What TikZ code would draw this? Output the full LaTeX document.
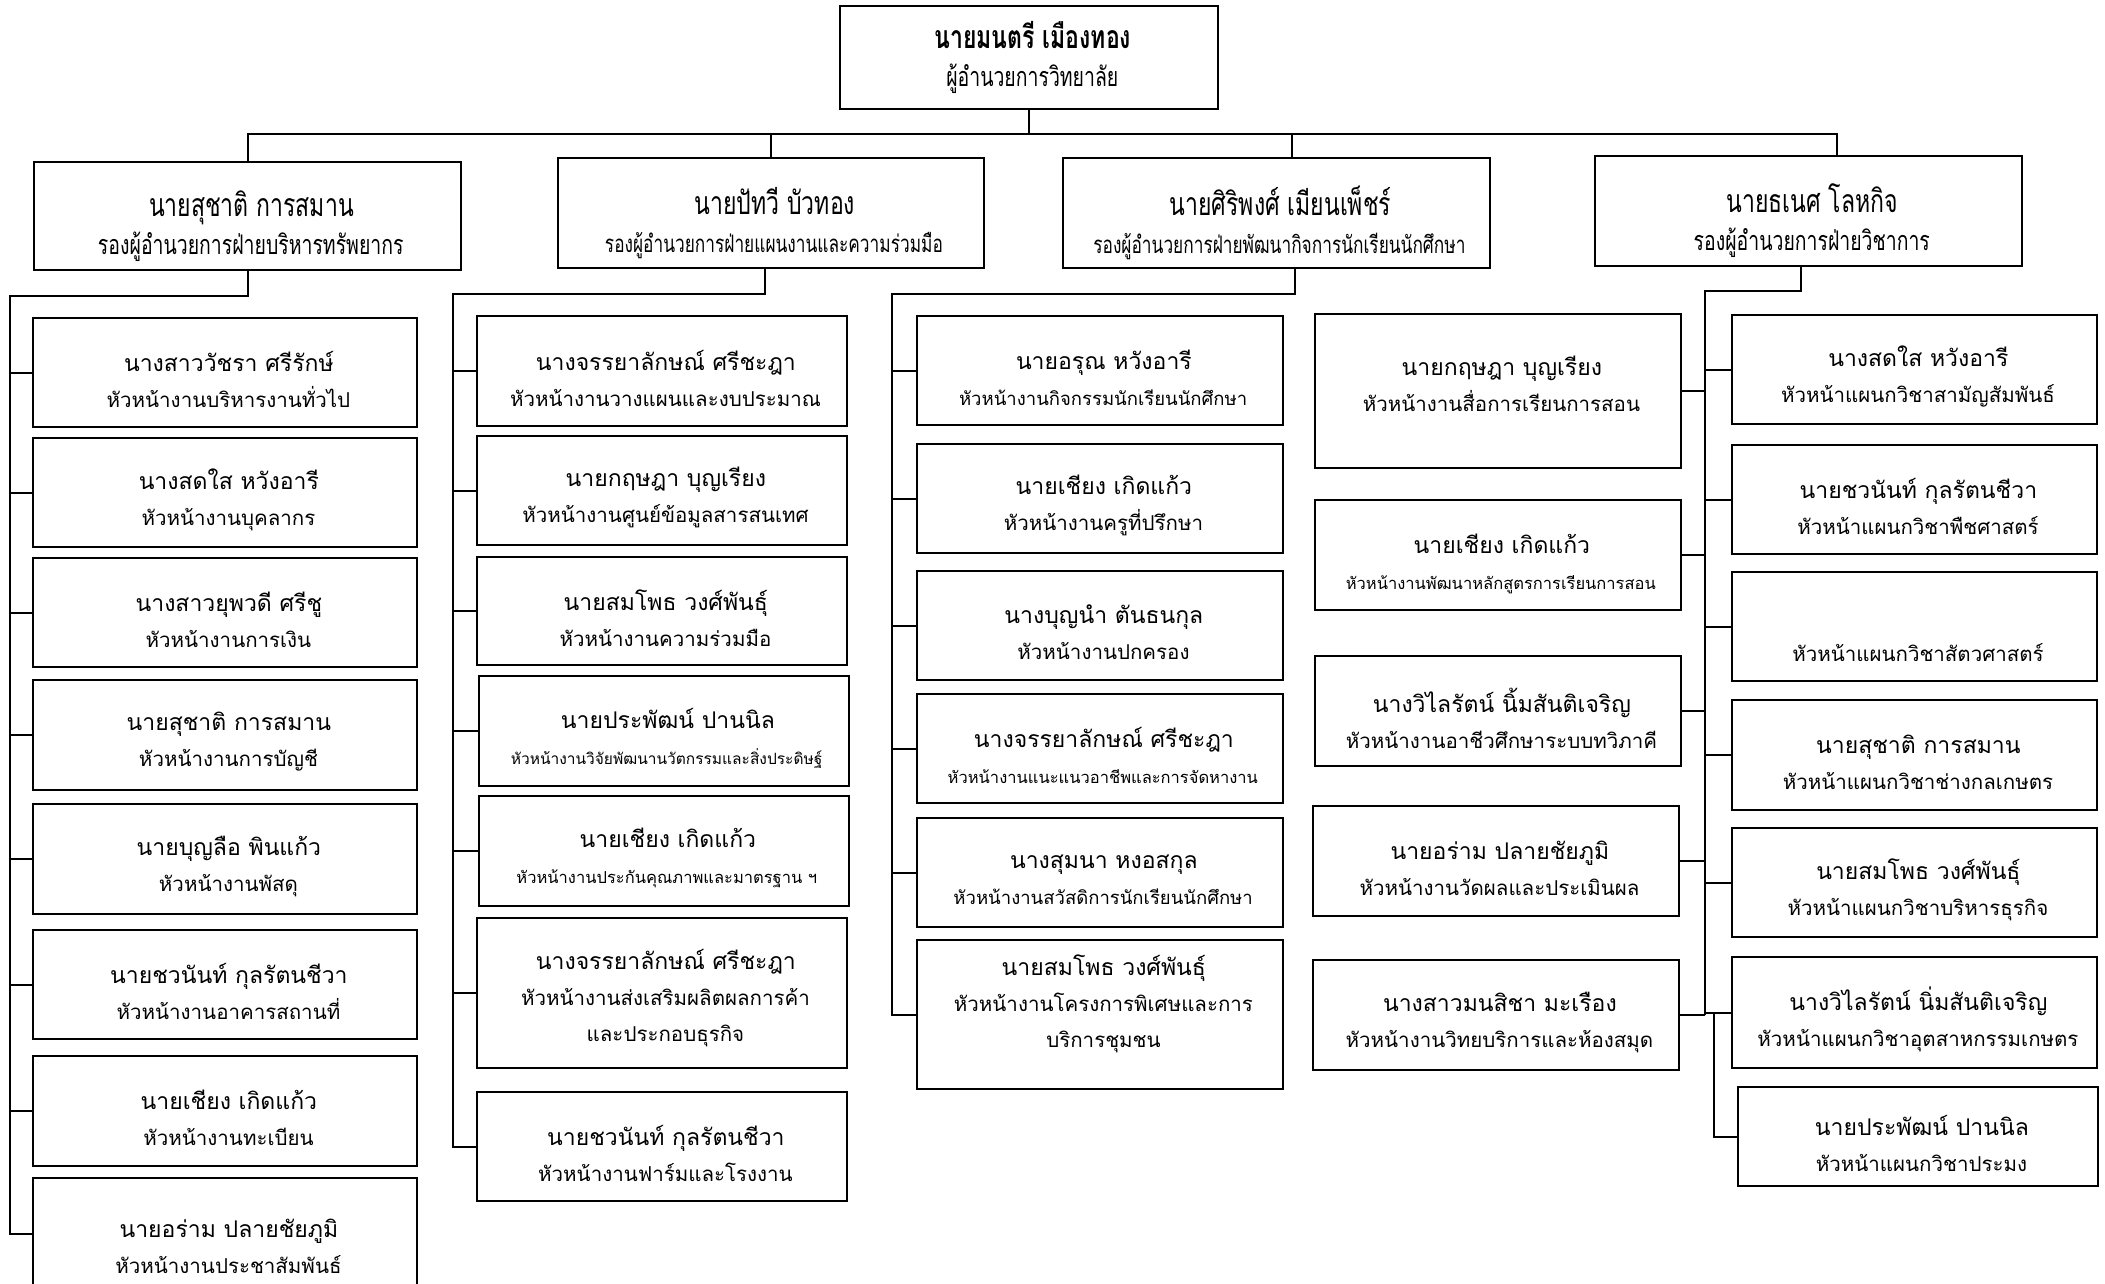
\documentclass[tikz,border=0pt]{standalone}
\usepackage{fontspec}
\newfontfamily\thai[Script=Thai]{Loma}
\newfontfamily\thaic[Script=Thai,FakeStretch=0.72]{Loma}
\newcommand\nm{\thai\fontsize{23}{36}\selectfont}
\newcommand\rl{\thai\fontsize{20.5}{36}\selectfont}
\newcommand\rlm{\thai\fontsize{18.5}{36}\selectfont}
\newcommand\rls{\thai\fontsize{16.5}{36}\selectfont}
\newcommand\rlx{\thai\fontsize{15.5}{36}\selectfont}
\newcommand\tnm{\thaic\fontsize{32}{38}\selectfont}
\newcommand\trl{\thaic\fontsize{27}{38}\selectfont}
\newcommand\trs{\thaic\fontsize{24}{38}\selectfont}
\def\td{0pt}
\newcommand\T[2]{\raisebox{-\td}[\height][\depth]{#1 #2}}
\tikzset{
  tdrop/.code={\def\td{#1}},
  box/.style={draw, line width=2.4pt, align=center, inner sep=0pt, font=\rl, tdrop=7pt},
  head/.style={font=\trl, tdrop=10pt},
  link/.style={line width=2pt}
}
\newcommand\OB[7][]{\node[box,#1, minimum width={#5-#3}, minimum height={#6-#4}] (#2) at ({(#3+#5)/2},{(#4+#6)/2}) {#7};}
\begin{document}
\begin{tikzpicture}[x=1pt,y=-1pt]
\useasboundingbox[fill=white] (0,0) rectangle (2105,1284);
% top
\OB[head,tdrop=0pt]{top}{840}{6}{1218}{109}{\T{\tnm\bfseries}{นายมนตรี เมืองทอง}\\\T\trl{ผู้อำนวยการวิทยาลัย}}
% deputies
\OB[head]{A}{34}{162}{461}{270}{\T\tnm{นายสุชาติ  การสมาน}\\\T\trl{รองผู้อำนวยการฝ่ายบริหารทรัพยากร}}
\OB[head]{B}{558}{158}{984}{268}{\T\tnm{นายปัทวี บัวทอง}\\\T\trs{รองผู้อำนวยการฝ่ายแผนงานและความร่วมมือ}}
\OB[head]{C}{1063}{158}{1490}{268}{\T\tnm{นายศิริพงศ์ เมียนเพ็ชร์}\\\T\trs{รองผู้อำนวยการฝ่ายพัฒนากิจการนักเรียนนักศึกษา}}
\OB[head]{D}{1595}{156}{2022}{266}{\T\tnm{นายธเนศ โลหกิจ}\\\T\trl{รองผู้อำนวยการฝ่ายวิชาการ}}
% column 1
\OB{c1a}{33}{318}{417}{427}{\T\nm{นางสาววัชรา ศรีรักษ์}\\\T\rl{หัวหน้างานบริหารงานทั่วไป}}
\OB{c1b}{33}{438}{417}{547}{\T\nm{นางสดใส หวังอารี}\\\T\rl{หัวหน้างานบุคลากร}}
\OB{c1c}{33}{558}{417}{667}{\T\nm{นางสาวยุพวดี ศรีชู}\\\T\rl{หัวหน้างานการเงิน}}
\OB{c1d}{33}{680}{417}{790}{\T\nm{นายสุชาติ การสมาน}\\\T\rl{หัวหน้างานการบัญชี}}
\OB{c1e}{33}{804}{417}{914}{\T\nm{นายบุญลือ พินแก้ว}\\\T\rl{หัวหน้างานพัสดุ}}
\OB{c1f}{33}{930}{417}{1039}{\T\nm{นายชวนันท์ กุลรัตนชีวา}\\\T\rl{หัวหน้างานอาคารสถานที่}}
\OB{c1g}{33}{1056}{417}{1166}{\T\nm{นายเชียง เกิดแก้ว}\\\T\rl{หัวหน้างานทะเบียน}}
\OB[tdrop=12pt]{c1h}{33}{1178}{417}{1290}{\T\nm{นายอร่าม ปลายชัยภูมิ}\\\T\rl{หัวหน้างานประชาสัมพันธ์}}
% column 2
\OB{c2a}{477}{316}{847}{426}{\T\nm{นางจรรยาลักษณ์ ศรีชะฎา}\\\T\rl{หัวหน้างานวางแผนและงบประมาณ}}
\OB{c2b}{477}{436}{847}{545}{\T\nm{นายกฤษฎา บุญเรียง}\\\T\rl{หัวหน้างานศูนย์ข้อมูลสารสนเทศ}}
\OB{c2c}{477}{557}{847}{665}{\T\nm{นายสมโพธ วงศ์พันธุ์}\\\T\rl{หัวหน้างานความร่วมมือ}}
\OB{c2d}{479}{676}{849}{786}{\T\nm{นายประพัฒน์ ปานนิล}\\\T\rlx{หัวหน้างานวิจัยพัฒนานวัตกรรมและสิ่งประดิษฐ์}}
\OB{c2e}{479}{796}{849}{906}{\T\nm{นายเชียง เกิดแก้ว}\\\T\rls{หัวหน้างานประกันคุณภาพและมาตรฐาน ฯ}}
\OB[tdrop=5pt]{c2f}{477}{918}{847}{1068}{\T\nm{นางจรรยาลักษณ์ ศรีชะฎา}\\\T\rl{หัวหน้างานส่งเสริมผลิตผลการค้า}\\\T\rl{และประกอบธุรกิจ}}
\OB{c2g}{477}{1092}{847}{1201}{\T\nm{นายชวนันท์ กุลรัตนชีวา}\\\T\rl{หัวหน้างานฟาร์มและโรงงาน}}
% column 3
\OB{c3a}{917}{316}{1283}{425}{\T\nm{นายอรุณ หวังอารี}\\\T\rlm{หัวหน้างานกิจกรรมนักเรียนนักศึกษา}}
\OB{c3b}{917}{444}{1283}{553}{\T\nm{นายเชียง เกิดแก้ว}\\\T\rl{หัวหน้างานครูที่ปรึกษา}}
\OB{c3c}{917}{571}{1283}{680}{\T\nm{นางบุญนำ ตันธนกุล}\\\T\rl{หัวหน้างานปกครอง}}
\OB{c3d}{917}{694}{1283}{803}{\T\nm{นางจรรยาลักษณ์ ศรีชะฎา}\\\T\rls{หัวหน้างานแนะแนวอาชีพและการจัดหางาน}}
\OB{c3e}{917}{818}{1283}{927}{\T\nm{นางสุมนา หงอสกุล}\\\T\rlm{หัวหน้างานสวัสดิการนักเรียนนักศึกษา}}
\OB[tdrop=-11pt]{c3f}{917}{940}{1283}{1089}{\T\nm{นายสมโพธ วงศ์พันธุ์}\\\T\rl{หัวหน้างานโครงการพิเศษและการ}\\\T\rl{บริการชุมชน}}
% column 4
\OB[tdrop=-7pt]{c4a}{1315}{314}{1681}{468}{\T\nm{นายกฤษฎา บุญเรียง}\\\T\rl{หัวหน้างานสื่อการเรียนการสอน}}
\OB[tdrop=9pt]{c4b}{1315}{500}{1681}{610}{\T\nm{นายเชียง เกิดแก้ว}\\\T\rls{หัวหน้างานพัฒนาหลักสูตรการเรียนการสอน}}
\OB{c4c}{1315}{656}{1681}{766}{\T\nm{นางวิไลรัตน์ นิ้มสันติเจริญ}\\\T\rl{หัวหน้างานอาชีวศึกษาระบบทวิภาคี}}
\OB{c4d}{1313}{806}{1679}{916}{\T\nm{นายอร่าม ปลายชัยภูมิ}\\\T\rl{หัวหน้างานวัดผลและประเมินผล}}
\OB{c4e}{1313}{960}{1679}{1070}{\T\nm{นางสาวมนสิชา มะเรือง}\\\T\rl{หัวหน้างานวิทยบริการและห้องสมุด}}
% column 5
\OB{c5a}{1732}{315}{2097}{424}{\T\nm{นางสดใส หวังอารี}\\\T\rl{หัวหน้าแผนกวิชาสามัญสัมพันธ์}}
\OB{c5b}{1732}{445}{2097}{554}{\T\nm{นายชวนันท์ กุลรัตนชีวา}\\\T\rl{หัวหน้าแผนกวิชาพืชศาสตร์}}
\OB[tdrop=17pt]{c5c}{1732}{572}{2097}{681}{\T\nm{~}\\\T\rl{หัวหน้าแผนกวิชาสัตวศาสตร์}}
\OB{c5d}{1732}{700}{2097}{810}{\T\nm{นายสุชาติ  การสมาน}\\\T\rl{หัวหน้าแผนกวิชาช่างกลเกษตร}}
\OB{c5e}{1732}{828}{2097}{937}{\T\nm{นายสมโพธ วงศ์พันธุ์}\\\T\rl{หัวหน้าแผนกวิชาบริหารธุรกิจ}}
\OB{c5f}{1732}{957}{2097}{1068}{\T\nm{นางวิไลรัตน์ นิ่มสันติเจริญ}\\\T\rl{หัวหน้าแผนกวิชาอุตสาหกรรมเกษตร}}
\OB{c5g}{1738}{1087}{2098}{1186}{\T\nm{นายประพัฒน์ ปานนิล}\\\T\rl{หัวหน้าแผนกวิชาประมง}}
% level-1 connectors
\coordinate (h) at (0,134);
\coordinate (Cu) at ([xshift=15pt]C.north);
\coordinate (Du) at ([xshift=28pt]D.north);
\draw[link] (top.south) -- (top.south |- h);
\draw[link] (A.north) |- (Du |- h) -- (Du);
\draw[link] (B.north) -- (B.north |- h);
\draw[link] (Cu) -- (Cu |- h);
% column 1 trunk
\coordinate (t1) at (10,296);
\draw[link] (A.south) |- (t1) |- (c1h.west);
\foreach \n in {c1a,c1b,c1c,c1d,c1e,c1f,c1g} \draw[link] (\n.west) -- (\n.west -| t1);
% column 2 trunk
\coordinate (t2) at (453,294);
\coordinate (Bd) at ([xshift=-6pt]B.south);
\draw[link] (Bd) |- (t2) |- (c2g.west);
\foreach \n in {c2a,c2b,c2c,c2d,c2e,c2f} \draw[link] (\n.west) -- (\n.west -| t2);
% column 3 trunk
\coordinate (t3) at (892,294);
\coordinate (Cd) at ([xshift=18pt]C.south);
\draw[link] (Cd) |- (t3) |- (c3f.west);
\foreach \n in {c3a,c3b,c3c,c3d,c3e} \draw[link] (\n.west) -- (\n.west -| t3);
% columns 4 and 5 trunk
\coordinate (t4) at (1705,291);
\coordinate (Dd) at ([xshift=-8pt]D.south);
\draw[link] (Dd) |- (t4) -- (t4 |- c4e.east);
\foreach \n in {c4a,c4b,c4c,c4d,c4e} \draw[link] (\n.east) -- (\n.east -| t4);
\foreach \n in {c5a,c5b,c5c,c5d,c5e,c5f} \draw[link] (\n.west) -- (\n.west -| t4);
\coordinate (br) at (1714,0);
\draw[link] (c5g.west) -| (br |- c5f.west);
\end{tikzpicture}
\end{document}
